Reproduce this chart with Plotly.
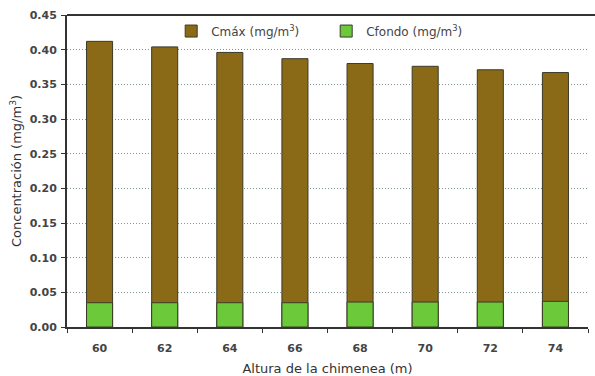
import plotly.graph_objects as go

# Chimney height (m) and concentrations (mg/m3)
alturas = ["60", "62", "64", "66", "68", "70", "72", "74"]
cmax = [0.412, 0.404, 0.396, 0.387, 0.380, 0.376, 0.371, 0.367]
cfondo = [0.035, 0.035, 0.035, 0.035, 0.036, 0.036, 0.036, 0.037]
y_ticks = [0.00, 0.05, 0.10, 0.15, 0.20, 0.25, 0.30, 0.35, 0.40, 0.45]

FONT = "DejaVu Sans, Liberation Sans, sans-serif"

fig = go.Figure()
fig.add_trace(go.Bar(
    x=alturas, y=cmax, name="Cmáx (mg/m<sup>3</sup>)",
    marker=dict(color="#8a6a17", line=dict(color="#3a3a2a", width=1)),
    width=0.4,
))
fig.add_trace(go.Bar(
    x=alturas, y=cfondo, name="Cfondo (mg/m<sup>3</sup>)",
    marker=dict(color="#6bc93a", line=dict(color="#3a3a2a", width=1)),
    width=0.4,
))

fig.update_layout(
    width=595, height=376,
    margin=dict(l=67, r=7, t=15, b=49),
    barmode="overlay",
    paper_bgcolor="white", plot_bgcolor="white",
    font=dict(family=FONT, color="#333"),
    legend=dict(
        orientation="h", x=0.2, y=0.995, xanchor="left", yanchor="top",
        font=dict(size=12, color="#444", family=FONT),
        bgcolor="rgba(255,255,255,0)",
        itemwidth=30, traceorder="normal",
        entrywidth=110, entrywidthmode="pixels",
    ),
    showlegend=True,
    shapes=[dict(type="line", xref="paper", yref="paper", x0=0, x1=1.02,
                 y0=1, y1=1, line=dict(color="#333", width=2))],
)

fig.update_xaxes(
    type="category", automargin=False,
    showline=True, linecolor="#333", linewidth=2,
    ticks="outside", tickson="boundaries", ticklen=4, tickcolor="#333",
    tickfont=dict(size=11, color="#444", family=FONT),
    ticklabelstandoff=10,
    tickprefix="<b>", ticksuffix="</b>",
    title=dict(text="Altura de la chimenea (m)", font=dict(size=13, color="#333"), standoff=10),
    showgrid=False,
)
fig.update_yaxes(
    range=[0, 0.45], tickvals=y_ticks, automargin=False,
    ticktext=[f"<b>{v:.2f}</b>" for v in y_ticks],
    showline=True, linecolor="#333", linewidth=2,
    ticks="outside", ticklen=4, tickcolor="#333",
    tickfont=dict(size=11, color="#444", family=FONT),
    ticklabelstandoff=2,
    showgrid=True, gridcolor="#7f9595", griddash="1px,2px", gridwidth=1,
    title=dict(text="Concentración (mg/m<sup>3</sup>)", font=dict(size=13, color="#333"), standoff=5),
    zeroline=False,
)

fig.write_html("out.html")
